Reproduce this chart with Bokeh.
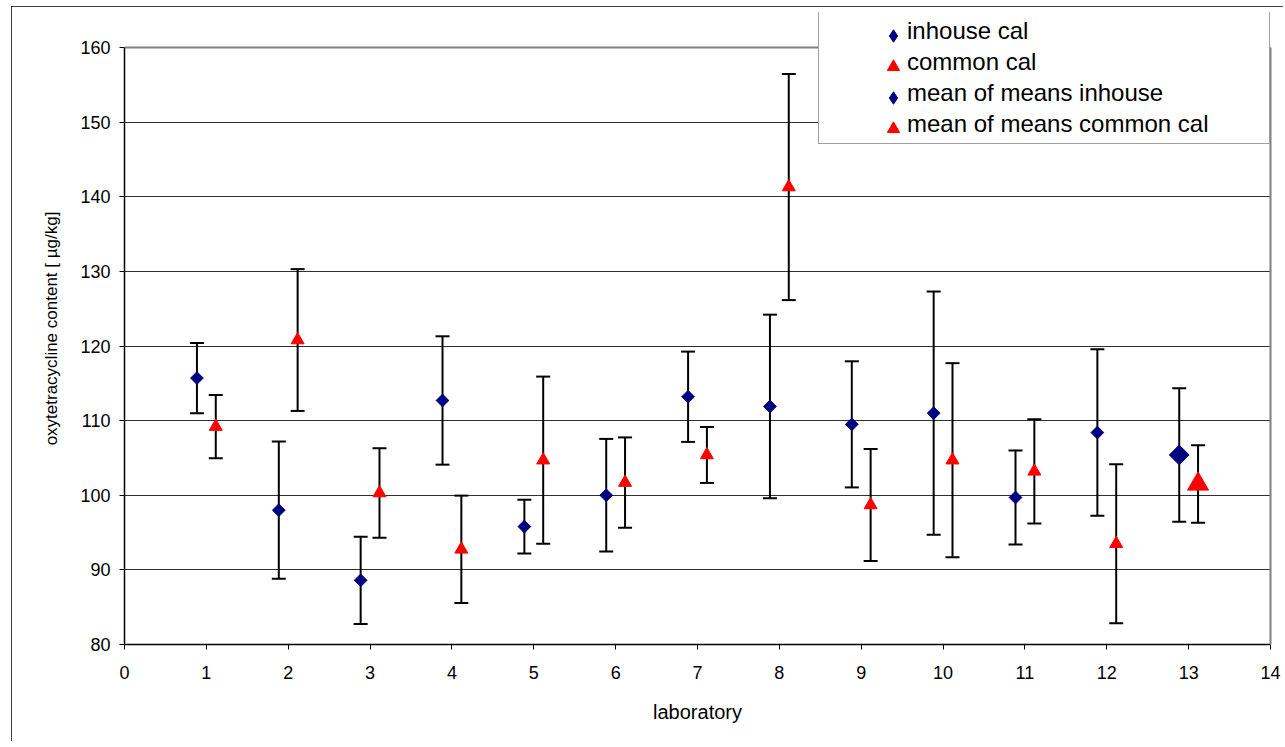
import numpy as np
from bokeh.plotting import figure
from bokeh.models import (Range1d, FixedTicker, ColumnDataSource, Whisker, TeeHead,
                          Legend, LegendItem, LinearAxis, Span)
from bokeh.embed import file_html
from bokeh.resources import INLINE

# ---------------- data ----------------
labs = list(range(1, 13))
inhouse_mean = [115.7, 98.0, 88.6, 112.7, 95.8, 100.0, 113.2, 111.9, 109.5, 111.0, 99.7, 108.4]
inhouse_sd = [4.7, 9.2, 5.85, 8.6, 3.6, 7.55, 6.05, 12.3, 8.45, 16.3, 6.3, 11.15]
common_mean = [109.2, 120.8, 100.3, 92.75, 104.7, 101.7, 105.4, 141.3, 98.7, 104.7, 103.2, 93.5]
common_sd = [4.25, 9.5, 6.0, 7.2, 11.2, 6.05, 3.75, 15.15, 7.5, 13.0, 7.0, 10.65]
mean_lab = [13]
mom_inhouse = [105.4]
mom_inhouse_sd = [8.95]
mom_common = [101.5]
mom_common_sd = [5.2]
x_offset = 0.115
x_ticks = list(range(0, 15))
y_ticks = list(range(80, 161, 10))
y_min, y_max = 80, 160
x_min, x_max = 0, 14
series_labels = ["inhouse cal", "common cal", "mean of means inhouse", "mean of means common cal"]
x_label = "laboratory"
y_label = "oxytetracycline content [ µg/kg]"

NAVY = "#000080"
RED = "#FF0000"
FONT = "Liberation Sans"

# plot-area geometry (pixels)
FRAME_W = 1146
PLOT_H = 597            # height of the 80..160 region
EXTRA_TOP = 35          # room above 160 that holds the legend box
px_per_unit = PLOT_H / (y_max - y_min)
y_top = y_max + EXTRA_TOP / px_per_unit


def src(labs_, means, sds, off):
    m = np.array(means, dtype=float)
    s = np.array(sds, dtype=float)
    return ColumnDataSource(dict(x=np.array(labs_, dtype=float) + off, y=m, upper=m + s, lower=m - s))


s_in = src(labs, inhouse_mean, inhouse_sd, -x_offset)
s_co = src(labs, common_mean, common_sd, x_offset)
s_min = src(mean_lab, mom_inhouse, mom_inhouse_sd, -x_offset)
s_mco = src(mean_lab, mom_common, mom_common_sd, x_offset)

p = figure(width=1272, height=735, frame_width=FRAME_W, frame_height=PLOT_H + EXTRA_TOP,
           x_range=Range1d(x_min, x_max), y_range=Range1d(y_min, y_top),
           output_backend="svg", toolbar_location=None,
           min_border_left=113, min_border_right=13, min_border_top=6, min_border_bottom=97)
p.margin = (6, 0, 0, 11)
p.stylesheets = [":host { outline: 1px solid #000000; outline-offset: -1px; }"]

p.outline_line_color = None
p.background_fill_color = "white"
p.border_fill_color = "white"

p.xgrid.visible = False
p.ygrid.grid_line_color = "#303030"
p.ygrid.grid_line_width = 1
p.ygrid.ticker = FixedTicker(ticks=y_ticks[1:-1])

p.xaxis.ticker = FixedTicker(ticks=x_ticks)
p.yaxis.ticker = FixedTicker(ticks=y_ticks)
p.yaxis.bounds = (y_min, y_max)
for ax in (p.xaxis[0], p.yaxis[0]):
    ax.axis_line_color = "black"
    ax.axis_line_width = 1.5
    ax.major_tick_line_color = "black"
    ax.major_tick_line_width = 1
    ax.major_tick_in = 0
    ax.major_tick_out = 5
    ax.minor_tick_line_color = None
    ax.major_label_text_font = FONT
    ax.major_label_text_font_size = "18px"
    ax.major_label_text_color = "black"
    ax.axis_label_text_font = FONT
    ax.axis_label_text_font_style = "normal"
    ax.axis_label_text_color = "black"

p.xaxis.axis_label = x_label
p.yaxis.axis_label = y_label
p.xaxis.axis_label_text_font_size = "20px"
p.yaxis.axis_label_text_font_size = "17px"
p.xaxis.major_label_standoff = 16
p.yaxis.major_label_standoff = 9
p.xaxis.axis_label_standoff = 19
p.yaxis.axis_label_standoff = 16

# gray plot-area border (top at 160, right at 14)
p.add_layout(Span(location=y_max, dimension="width", line_color="#808080", line_width=2))
right_border = LinearAxis(bounds=(y_min, y_max), ticker=FixedTicker(ticks=[]),
                          axis_line_color="#808080", axis_line_width=2,
                          major_tick_line_color=None, minor_tick_line_color=None,
                          major_label_text_font_size="0px")
p.add_layout(right_border, "right")

# error bars
for s in (s_in, s_co, s_min, s_mco):
    w = Whisker(source=s, base="x", upper="upper", lower="lower",
                line_color="black", line_width=2,
                upper_head=TeeHead(size=14, line_color="black", line_width=2),
                lower_head=TeeHead(size=14, line_color="black", line_width=2))
    p.add_layout(w)

# markers
p.scatter("x", "y", source=s_in, marker="square", angle=np.pi / 4, size=9,
          fill_color=NAVY, line_color=NAVY)
p.scatter("x", "y", source=s_co, marker="triangle", size=13,
          fill_color=RED, line_color=RED)
p.scatter("x", "y", source=s_min, marker="square", angle=np.pi / 4, size=14,
          fill_color=NAVY, line_color=NAVY)
p.scatter("x", "y", source=s_mco, marker="triangle", size=21,
          fill_color=RED, line_color=RED)

# legend proxies (never visible in the plot area)
legend_markers = ["diamond", "triangle", "diamond", "triangle"]
legend_colors = [NAVY, RED, NAVY, RED]
shown = [p.scatter(x=[np.nan], y=[np.nan], marker=m, fill_color=c, line_color=c)
         for m, c in zip(legend_markers, legend_colors)]
hidden = [p.scatter(x=[np.nan], y=[np.nan], marker=m, fill_alpha=0, line_alpha=0)
          for m in legend_markers]

LEG_LOC = (694, 500)
common_kw = dict(location=LEG_LOC, padding=4, spacing=0, margin=0,
                 glyph_height=31, label_height=31)

# legend frame + texts
legend_text = Legend(items=[LegendItem(label=lab, renderers=[r]) for lab, r in zip(series_labels, hidden)],
                     glyph_width=84, label_standoff=0, label_width=358,
                     label_text_font=FONT, label_text_font_size="24px", label_text_color="black",
                     border_line_color="#404040", border_line_width=1,
                     background_fill_color="white", background_fill_alpha=1, **common_kw)
# legend symbols
legend_sym = Legend(items=[LegendItem(label=" ", renderers=[r]) for r in shown],
                    glyph_width=150, label_standoff=0, label_width=1,
                    label_text_font=FONT, label_text_font_size="24px",
                    border_line_color=None, background_fill_alpha=0, **common_kw)
p.add_layout(legend_text)
p.add_layout(legend_sym)

open("out.html", "w").write(file_html(p, INLINE))
